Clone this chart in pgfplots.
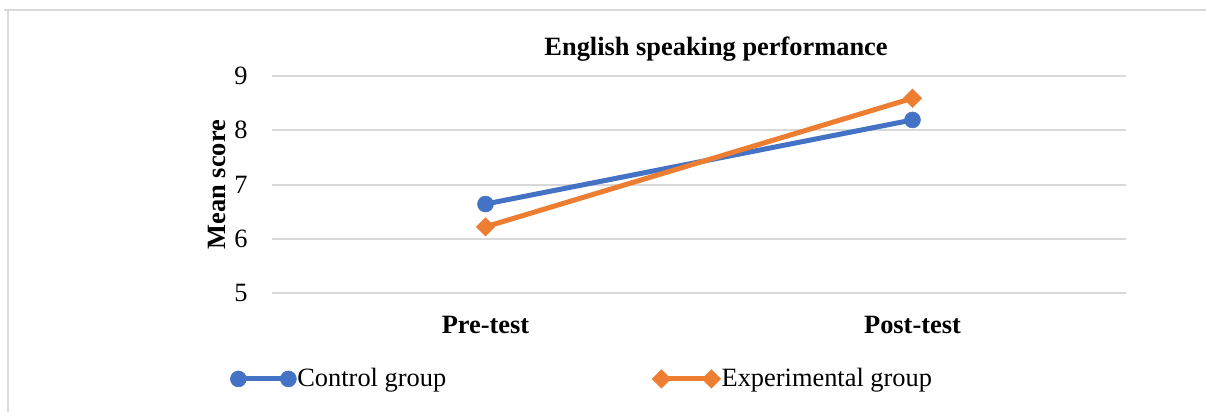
\documentclass[border=0pt]{standalone}
\usepackage{fontspec}
\setmainfont{Liberation Serif}
\usepackage{pgfplots}
\pgfplotsset{compat=1.18}
\newlength\px \setlength\px{0.5pt}
\definecolor{cblue}{RGB}{68,114,196}
\definecolor{corange}{RGB}{237,125,49}
\definecolor{gridc}{RGB}{217,217,217}
\begin{document}
\fontsize{13.2pt}{15.8pt}\selectfont
\begin{tikzpicture}
\path[use as bounding box] (0,0) rectangle (1206\px,412\px);
\draw[gridc, line width=2\px] (4\px,402\px) -- (1206\px,402\px);
\draw[gridc, line width=2\px] (8\px,402\px) -- (8\px,0\px);
\begin{axis}[
  at={(272\px,119\px)}, anchor=south west,
  scale only axis, width=854\px, height=217\px,
  xmin=-0.5, xmax=1.5, ymin=5, ymax=9,
  xtick={0,1}, xticklabels={\textbf{Pre-test},\textbf{Post-test}},
  ytick={5,6,7,8,9},
  ymajorgrids, grid style={gridc, line width=2\px},
  axis line style={draw=none},
  major tick length=0pt,
  tick style={draw=none},
  /pgf/number format/assume math mode=true,
  ticklabel style={font=\fontsize{13.2pt}{15.8pt}\selectfont},
  yticklabel style={anchor=east, inner sep=0pt, xshift=-24\px},
  xticklabel style={anchor=base, inner sep=0pt, yshift=-41\px},
  title={\textbf{English speaking performance}},
  title style={at={(axis description cs:0.52,1.037)}, anchor=base, inner sep=0pt, font=\fontsize{13.2pt}{15.8pt}\selectfont},
  ylabel={\textbf{Mean score}},
  ylabel style={at={(axis description cs:-0.0644,0.5)}, anchor=center, inner sep=0pt, font=\fontsize{13.2pt}{15.8pt}\selectfont},
  legend columns=2,
  legend style={at={(axis description cs:-0.0492,-0.396)}, anchor=west, draw=none, fill=none, inner sep=0pt,
    nodes={inner sep=1\px, font=\fontsize{13.2pt}{15.8pt}\selectfont},
    /tikz/every even column/.append style={column sep=205\px}},
  legend image code/.code={\draw[#1] plot coordinates {(0\px,0\px) (50\px,0\px)};},
]
\addplot[cblue, line width=5\px, mark=*, mark size=8\px, mark options={solid, line width=0.5\px}] coordinates {(0,6.64) (1,8.19)};
\addlegendentry{Control group}
\addplot[corange, line width=5\px, mark=square*, mark size=6.5\px, mark options={solid, rotate=45, line width=0.5\px}] coordinates {(0,6.22) (1,8.59)};
\addlegendentry{Experimental group}
\end{axis}
\end{tikzpicture}
\end{document}
